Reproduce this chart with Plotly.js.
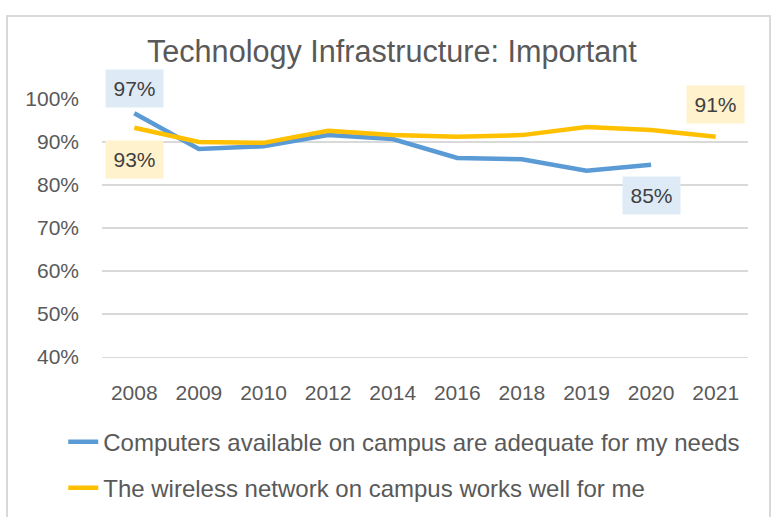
<!DOCTYPE html>
<html>
<head>
<meta charset="utf-8">
<script src="https://cdn.plot.ly/plotly-3.0.1.min.js"></script>
<style>
  html, body { margin: 0; padding: 0; background: #ffffff; }
  #wrap { position: relative; width: 776px; height: 517px; overflow: hidden; }
  #chart { position: absolute; left: 0; top: 0; width: 776px; height: 517px; }
  #frame { position: absolute; left: 6px; top: 15px; width: 765px; height: 520px;
           border: 2px solid #d9d9d9; box-sizing: border-box; pointer-events: none; }
</style>
</head>
<body>
<div id="wrap">
  <div id="chart"></div>
  <div id="frame"></div>
</div>
<script>
const years = ["2008", "2009", "2010", "2012", "2014", "2016", "2018", "2019", "2020", "2021"];
const computersName = "Computers available on campus are adequate for my needs";
const computers = [96.7, 88.4, 89.0, 91.6, 90.7, 86.3, 86.0, 83.3, 84.7, null];
const wirelessName = "The wireless network on campus works well for me";
const wireless = [93.3, 90.0, 89.8, 92.6, 91.6, 91.2, 91.6, 93.5, 92.8, 91.2];
const yTicks = [40, 50, 60, 70, 80, 90, 100];

const blue = "#5B9BD5", yellow = "#FFC000";
const font = "Liberation Sans, Arial, sans-serif";

const traces = [
  { x: years, y: computers, name: computersName, type: "scatter", mode: "lines",
    line: { color: blue, width: 4.5 }, connectgaps: false, legend: "legend" },
  { x: years, y: wireless, name: wirelessName, type: "scatter", mode: "lines",
    line: { color: yellow, width: 4.5 }, legend: "legend2" }
];

// category axis: annotation x is the category index
function label(series, idx, fill, yshift) {
  return { x: idx, y: series[idx], xref: "x", yref: "y",
    text: Math.round(series[idx]) + "%", showarrow: false,
    yshift: yshift, bgcolor: fill, width: 57, height: 37, borderpad: 0,
    font: { family: font, size: 21, color: "#404040" } };
}

const annotations = [
  label(computers, 0, "#DEEBF7", 25),
  label(wireless, 0, "#FFF2CC", -32),
  label(computers, 8, "#DEEBF7", -31),
  label(wireless, 9, "#FFF2CC", 32)
];

const legendBase = { orientation: "v", xanchor: "left", yanchor: "middle",
  xref: "container", yref: "container",
  bgcolor: "rgba(0,0,0,0)", borderwidth: 0,
  font: { family: font, size: 24, color: "#595959" } };

const layout = {
  width: 776, height: 517,
  margin: { l: 102, r: 28, t: 99, b: 160, autoexpand: false },
  paper_bgcolor: "#ffffff", plot_bgcolor: "#ffffff",
  title: { text: "Technology Infrastructure: Important", x: 0.505, xref: "container",
    y: 0.9, yref: "container", yanchor: "middle", xanchor: "center",
    font: { family: font, size: 30.6, color: "#595959" } },
  xaxis: { type: "category", categoryarray: years, range: [-0.5, 9.5],
    showgrid: false, showline: true, linecolor: "#d9d9d9", linewidth: 1.3,
    zeroline: false, ticks: "",
    ticklabelstandoff: 16, tickfont: { family: font, size: 21, color: "#595959" },
    fixedrange: true },
  yaxis: { range: [40, 100], tickvals: yTicks, ticktext: yTicks.map(v => v + "%"),
    showgrid: true, gridcolor: "#d9d9d9", gridwidth: 1.3, zeroline: false, showline: false,
    ticks: "", ticklabelstandoff: 22, tickfont: { family: font, size: 21, color: "#595959" },
    fixedrange: true },
  showlegend: true,
  legend: Object.assign({}, legendBase, { x: 0.0815, y: 0.145 }),
  legend2: Object.assign({}, legendBase, { x: 0.0815, y: 0.056 }),
  annotations: annotations
};

Plotly.newPlot("chart", traces, layout, { displayModeBar: false, staticPlot: true });
</script>
</body>
</html>
